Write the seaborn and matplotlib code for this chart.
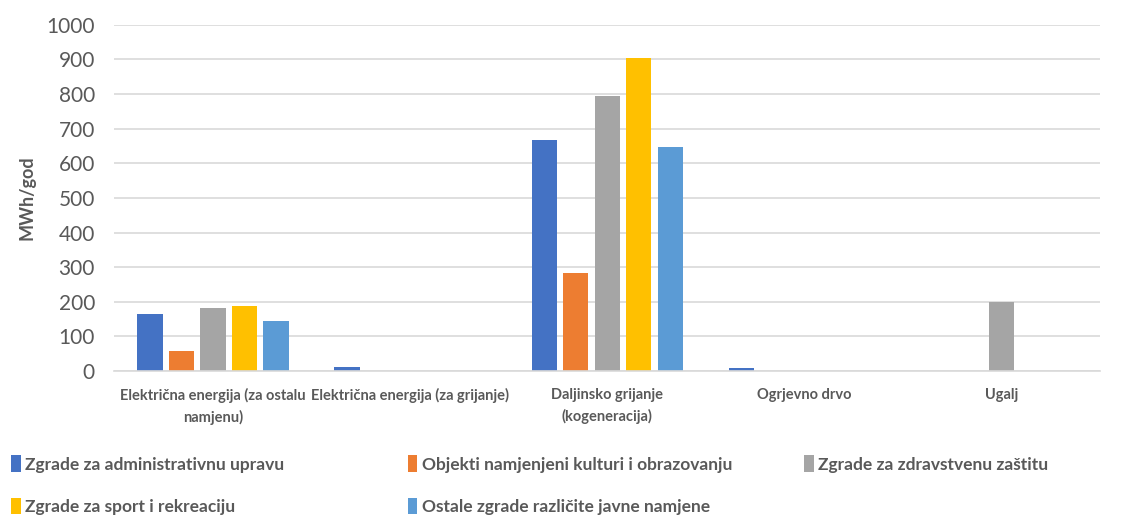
import numpy as np
import pandas as pd
import matplotlib.pyplot as plt
import seaborn as sns

# Data
categories = ['Električna energija (za ostalu\nnamjenu)',
              'Električna energija (za grijanje)',
              'Daljinsko grijanje\n(kogeneracija)',
              'Ogrjevno drvo',
              'Ugalj']
series = ['Zgrade za administrativnu upravu',
          'Objekti namjenjeni kulturi i obrazovanju',
          'Zgrade za zdravstvenu zaštitu',
          'Zgrade za sport i rekreaciju',
          'Ostale zgrade različite javne namjene']
administrativne = [165, 11, 667, 8, 0]
kultura = [58, 0, 283, 0, 0]
zdravstvo = [182, 0, 793, 0, 198]
sport = [188, 0, 903, 0, 0]
ostale = [145, 0, 648, 0, 0]
colors = ['#4472C4', '#ED7D31', '#A5A5A5', '#FFC000', '#5B9BD5']

values = [administrativne, kultura, zdravstvo, sport, ostale]
df = pd.DataFrame({
    'Kategorija': categories * len(series),
    'Serija': np.repeat(series, len(categories)),
    'MWh': np.concatenate(values),
})

sns.set_style('white')
plt.rcParams['font.family'] = ['Lato', 'DejaVu Sans']
txt = '#595959'

fig = plt.figure(figsize=(11.33, 5.16), dpi=100)
ax = fig.add_axes([0.101, 0.281, 0.870, 0.671])

sns.barplot(data=df, x='Kategorija', y='MWh', hue='Serija', palette=colors,
            saturation=1, width=0.8, gap=0.2, linewidth=0, ax=ax, legend=True)

ax.set_ylim(0, 1000)
ax.set_yticks(range(0, 1001, 100))
ax.yaxis.grid(True, color='#D9D9D9', linewidth=1.2)
ax.set_axisbelow(True)
for s in ['top', 'right', 'left']:
    ax.spines[s].set_visible(False)
ax.spines['bottom'].set_color('#D9D9D9')
ax.spines['bottom'].set_linewidth(1.2)
ax.tick_params(axis='y', labelsize=15, colors=txt, length=0, pad=14)
ax.tick_params(axis='x', labelsize=10.5, colors=txt, length=0, pad=12)
for lbl in ax.get_xticklabels():
    lbl.set_fontweight('bold')
    lbl.set_linespacing(1.6)
ax.set_xlabel('')
ax.set_ylabel('MWh/god', fontsize=13, fontweight='bold', color=txt, labelpad=8)

# legend: Excel-style fixed grid, 3 per row
handles, labels = ax.get_legend_handles_labels()
ax.get_legend().remove()
xs = [0.010, 0.360, 0.710]
ys = [0.101, 0.019]
for i, (h, l) in enumerate(zip(handles, labels)):
    leg = fig.legend([h], [l], loc='center left',
                     bbox_to_anchor=(xs[i % 3], ys[i // 3]), frameon=False,
                     handlelength=0.55, handleheight=1.1, handletextpad=0.25,
                     borderpad=0, borderaxespad=0,
                     prop={'size': 12.5, 'weight': 'bold'})
    for t in leg.get_texts():
        t.set_color(txt)

plt.savefig('out.png', dpi=100)
